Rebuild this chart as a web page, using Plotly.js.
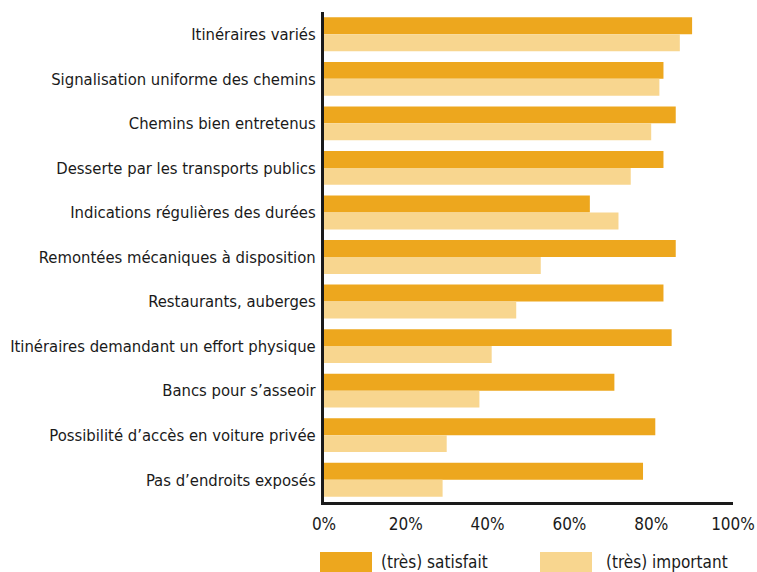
<!DOCTYPE html>
<html>
<head>
<meta charset="utf-8">
<script src="https://cdn.plot.ly/plotly-3.0.1.min.js"></script>
<style>html,body{margin:0;padding:0;background:#fff;}#chart{width:757px;height:572px;}</style>
</head>
<body>
<div id="chart"></div>
<script>
const categories = [
  "Itinéraires variés",
  "Signalisation uniforme des chemins",
  "Chemins bien entretenus",
  "Desserte par les transports publics",
  "Indications régulières des durées",
  "Remontées mécaniques à disposition",
  "Restaurants, auberges",
  "Itinéraires demandant un effort physique",
  "Bancs pour s’asseoir",
  "Possibilité d’accès en voiture privée",
  "Pas d’endroits exposés"
];
const satisfait = [90, 83, 86, 83, 65, 86, 83, 85, 71, 81, 78];
const important = [87, 82, 80, 75, 72, 53, 47, 41, 38, 30, 29];
const seriesNames = ["(très) satisfait", "(très) important"];
const xTickVals = [0, 20, 40, 60, 80, 100];
const xTickText = ["0%", "20%", "40%", "60%", "80%", "100%"];

const colSat = "#EDA71E";
const colImp = "#F8D68F";
const labelFont = {family: "DejaVu Sans Condensed, sans-serif", size: 16.5, color: "#1a1a1a"};
const tickFont = {family: "DejaVu Sans Condensed, sans-serif", size: 17, color: "#1a1a1a"};

const traces = [
  {type: "bar", orientation: "h", name: seriesNames[0], y: categories, x: satisfait,
   marker: {color: colSat}, hoverinfo: "x+y"},
  {type: "bar", orientation: "h", name: seriesNames[1], y: categories, x: important,
   marker: {color: colImp}, hoverinfo: "x+y"}
];

const L = 324, R = 733, T = 12, B = 502;
const W = R - L, H = B - T;
const px = v => (v - L) / W;
const py = v => (B - v) / H;

const layout = {
  width: 757, height: 572,
  margin: {l: L, r: 757 - R, t: T, b: 572 - B},
  paper_bgcolor: "#fff", plot_bgcolor: "#fff",
  barmode: "group", bargap: 0.24, bargroupgap: 0,
  showlegend: false,
  xaxis: {range: [0, 100], tickvals: xTickVals, ticktext: xTickText, showgrid: false,
          zeroline: false, showline: true, linecolor: "#1a1a1a", linewidth: 3,
          ticks: "", tickfont: tickFont, ticklabelstandoff: 5, fixedrange: true},
  yaxis: {type: "category", categoryorder: "array", categoryarray: categories, autorange: "reversed",
          showgrid: false, zeroline: false, showline: true, linecolor: "#1a1a1a", linewidth: 3,
          ticks: "", tickfont: labelFont, ticklabelstandoff: 2, fixedrange: true},
  shapes: [
    {type: "rect", xref: "paper", yref: "paper", x0: px(320), x1: px(372), y0: py(552), y1: py(574),
     fillcolor: colSat, line: {width: 0}},
    {type: "rect", xref: "paper", yref: "paper", x0: px(540), x1: px(592), y0: py(552), y1: py(574),
     fillcolor: colImp, line: {width: 0}}
  ],
  annotations: [
    {xref: "paper", yref: "paper", x: px(379), y: py(562), xanchor: "left", yanchor: "middle",
     text: seriesNames[0], showarrow: false, font: tickFont},
    {xref: "paper", yref: "paper", x: px(604), y: py(562), xanchor: "left", yanchor: "middle",
     text: seriesNames[1], showarrow: false, font: tickFont}
  ]
};

Plotly.newPlot("chart", traces, layout, {displayModeBar: false, staticPlot: true});
</script>
</body>
</html>
